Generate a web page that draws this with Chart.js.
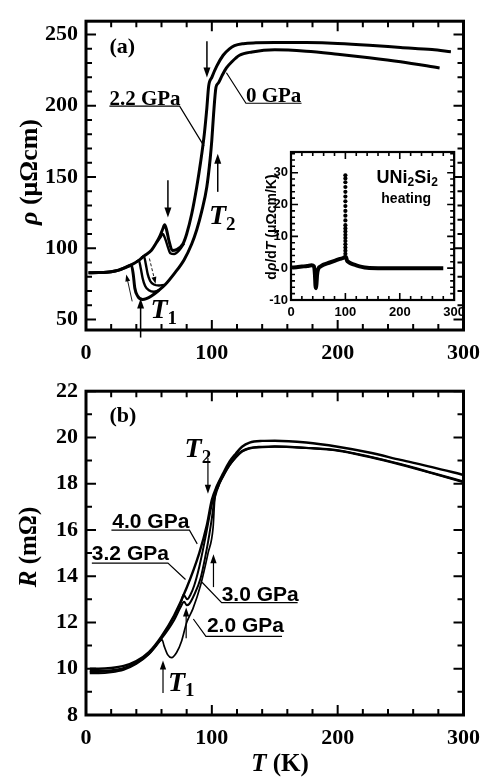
<!DOCTYPE html>
<html>
<head>
<meta charset="utf-8">
<script src="https://cdn.jsdelivr.net/npm/chart.js@4.4.1/dist/chart.umd.min.js"></script>
<style>
  body { margin: 0; background: #fff; }
  canvas { position: absolute; }
</style>
</head>
<body>
<canvas id="pa" width="490" height="370" style="left:0;top:0;width:490px;height:370px"></canvas>
<canvas id="pb" width="490" height="409" style="left:0;top:370px;width:490px;height:409px"></canvas>
<canvas id="pin" width="240" height="190" style="left:230px;top:140px;width:240px;height:190px"></canvas>
<script>
// ---- panel (a): rho(T), 0 and 2.2 GPa ----
const xTicksA = [0, 100, 200, 300];
const yTicksA = [50, 100, 150, 200, 250];

const tA22 = [2, 10, 20, 26, 30, 36, 42, 46, 52, 56, 59, 61, 62.5, 64, 66, 68.5, 72, 77, 80, 84, 88, 91, 94, 96, 97.5, 100, 104, 109, 114, 118, 125, 135, 150, 175, 200, 225, 250, 275, 290];
const rA22 = [82.8, 82.9, 83.5, 84.6, 86, 88.3, 91.5, 94.5, 98.6, 104, 109, 113.5, 116.5, 113, 105, 98.5, 99, 103, 110, 124, 143, 160, 180, 198, 214, 220, 228, 235.5, 240, 242.2, 243.6, 244.2, 244.5, 244.4, 243.8, 242.6, 241, 239.5, 238];

// second (cooling) branch of 2.2 GPa around its T1 bump
const tA22b = [56, 59, 61, 63, 65, 67, 70, 74, 78];
const rA22b = [104, 107.5, 110, 106.5, 101, 96.5, 96, 98.5, 103.5];

const tA0 = [2, 10, 20, 26, 30, 34, 36, 37.5, 38.8, 41, 45, 48, 52, 58, 63, 70, 78, 84, 88, 92, 96, 98.7, 100, 101.3, 103.3, 105.2, 108, 111.6, 116, 122, 132, 150, 175, 200, 225, 250, 281];
const rA0 = [82.8, 82.9, 83.5, 84.6, 86, 87.6, 88.3, 82, 72, 66.5, 64, 64.6, 66.5, 70.5, 74.5, 82, 92, 103, 113, 126, 143, 163, 176, 193, 213, 216, 221, 226.6, 231, 235.5, 237.8, 239.3, 238.3, 236.2, 233.8, 231, 226.6];

// hysteresis branches near T1 (0 GPa)
const tA0h1 = [40, 42, 43.5, 45, 47, 50, 54, 58];
const rA0h1 = [90.5, 91.5, 86, 79, 73.5, 70.5, 69.5, 70.5];
const tA0h2 = [44, 46, 47.5, 49, 51, 54, 58, 62];
const rA0h2 = [93.2, 94.5, 89, 82, 77, 74.5, 73.8, 74.3];

// ---- inset: d rho / dT, heating ----
const xTicksIn = [0, 100, 200, 300];
const yTicksIn = [-10, 0, 10, 20, 30];
const tIn = [2, 10, 20, 30, 38, 42, 44, 45, 46, 47, 48, 50, 55, 60, 70, 80, 90, 96, 99, 101, 103, 106, 110, 120, 130, 140, 160, 200, 240, 280];
const vIn = [0.2, 0.3, 0.5, 0.7, 0.9, 0.6, -2, -5.5, -6.3, -4.5, -2, -0.3, 0.6, 1.1, 1.7, 2.3, 2.9, 3.2, 3.5, 3.5, 2.4, 1.9, 1.5, 0.9, 0.4, 0.1, 0, 0, 0, 0];
const tSpike = [100, 100, 100, 100, 100, 100, 100, 100, 100, 100, 100, 100, 100, 100, 100, 100, 100, 100, 100, 100, 100];
const vSpike = [4.5, 5.5, 6.5, 7.5, 8.5, 9.5, 10.5, 11.5, 12.5, 13.5, 15, 16.5, 18, 19.5, 21, 22.5, 24, 25.5, 27, 28.2, 29.2];

// ---- panel (b): R(T), 2.0 / 3.0 / 3.2 / 4.0 GPa ----
const xTicksB = [0, 100, 200, 300];
const yTicksB = [8, 10, 12, 14, 16, 18, 20, 22];

const tB40 = [3, 10, 20, 30, 40, 50, 60, 70, 80, 90, 96, 100, 104, 109, 114, 119, 124, 130, 140, 150, 175, 200, 225, 250, 275, 300];
const rB40 = [10.0, 10.0, 10.03, 10.12, 10.33, 10.72, 11.4, 12.3, 13.5, 15.0, 16.2, 17.3, 17.9, 18.45, 18.95, 19.3, 19.6, 19.78, 19.85, 19.86, 19.78, 19.6, 19.35, 19.03, 18.72, 18.38];

const tB32 = [3, 10, 20, 30, 40, 50, 60, 70, 76, 77.5, 79, 80.5, 83, 86, 90, 95, 100, 104, 109, 114, 119, 124, 130, 140, 150, 175, 200, 225, 250, 275, 300];
const rB32 = [9.86, 9.86, 9.9, 10.0, 10.24, 10.65, 11.35, 12.25, 12.95, 13.2, 13.1, 13.0, 13.2, 13.6, 14.4, 15.7, 17.1, 17.85, 18.4, 18.85, 19.2, 19.42, 19.55, 19.6, 19.62, 19.56, 19.45, 19.18, 18.85, 18.48, 18.1];

const tB30 = [3, 10, 20, 30, 40, 50, 60, 70, 75, 78, 80, 82, 86, 91, 95, 98, 100, 102, 104, 109, 114, 119, 124, 130, 140, 150, 175, 200, 225, 250, 275, 300];
const rB30 = [9.9, 9.9, 9.93, 10.03, 10.26, 10.66, 11.3, 12.1, 12.65, 12.9, 12.75, 12.8, 13.2, 13.9, 14.9, 15.8, 16.5, 17.3, 17.7, 18.35, 18.8, 19.15, 19.4, 19.53, 19.58, 19.6, 19.54, 19.43, 19.15, 18.82, 18.45, 18.06];

const tB20 = [3, 10, 20, 30, 40, 50, 56, 59, 60.5, 62, 65, 68, 72, 76, 80, 85, 91, 97, 101, 102.3, 105, 109, 114, 119, 124, 130, 140, 150, 175, 200, 225, 250, 275, 300];
const rB20 = [9.8, 9.8, 9.84, 9.95, 10.2, 10.62, 11.0, 11.2, 11.25, 11.0, 10.6, 10.48, 10.7, 11.2, 12.0, 12.6, 13.6, 15.0, 16.1, 17.3, 17.85, 18.3, 18.78, 19.12, 19.38, 19.52, 19.58, 19.6, 19.55, 19.44, 19.17, 18.84, 18.46, 18.08];

const serif = '"Liberation Serif", "Times New Roman", serif';
const sans = '"Liberation Sans", Arial, sans-serif';

const pts = (xs, ys) => xs.map((x, i) => ({ x: x, y: ys[i] }));

function curve(xs, ys, w) {
  return {
    data: pts(xs, ys),
    borderColor: '#000',
    borderWidth: w,
    pointRadius: 0,
    fill: false,
    cubicInterpolationMode: 'monotone'
  };
}

// inward ticks on all four sides + heavy frame
const axesStyle = {
  pa: { xStep: 20, xMajor: 100, yStep: 10, yMajor: 50, major: 10, minor: 6, tickW: 2, frameW: 3 },
  pb: { xStep: 20, xMajor: 100, yStep: 1, yMajor: 2, major: 10, minor: 6, tickW: 2, frameW: 3 },
  pin: { xStep: 20, xMajor: 100, yStep: 2, yMajor: 10, major: 7, minor: 4, tickW: 1.6, frameW: 2.2 }
};

const frame = {
  id: 'frame',
  afterDraw(chart) {
    const s = axesStyle[chart.canvas.id];
    const { ctx, chartArea: a } = chart;
    const xs = chart.scales.x, ys = chart.scales.y;
    const isMajor = (v, m) => Math.abs(v / m - Math.round(v / m)) < 1e-6;
    ctx.save();
    ctx.strokeStyle = '#000';
    ctx.lineWidth = s.tickW;
    ctx.beginPath();
    for (let v = Math.ceil(xs.min / s.xStep) * s.xStep; v <= xs.max + 1e-9; v += s.xStep) {
      const p = xs.getPixelForValue(v);
      const len = isMajor(v, s.xMajor) ? s.major : s.minor;
      ctx.moveTo(p, a.bottom); ctx.lineTo(p, a.bottom - len);
      ctx.moveTo(p, a.top); ctx.lineTo(p, a.top + len);
    }
    for (let v = Math.ceil(ys.min / s.yStep) * s.yStep; v <= ys.max + 1e-9; v += s.yStep) {
      const p = ys.getPixelForValue(v);
      const len = isMajor(v, s.yMajor) ? s.major : s.minor;
      ctx.moveTo(a.left, p); ctx.lineTo(a.left + len, p);
      ctx.moveTo(a.right, p); ctx.lineTo(a.right - len, p);
    }
    ctx.stroke();
    ctx.lineWidth = s.frameW;
    ctx.strokeRect(a.left, a.top, a.width, a.height);
    ctx.restore();
  }
};

// text pieces: [string, font, baseline shift]
function drawRich(ctx, parts, x, y, align, rot) {
  ctx.save();
  ctx.translate(x, y);
  if (rot) ctx.rotate(rot);
  ctx.textBaseline = 'middle';
  ctx.textAlign = 'left';
  let total = 0;
  parts.forEach(p => { ctx.font = p[1]; total += ctx.measureText(p[0]).width; });
  let cx = align === 'center' ? -total / 2 : 0;
  parts.forEach(p => {
    ctx.font = p[1];
    ctx.fillText(p[0], cx, p[2] || 0);
    cx += ctx.measureText(p[0]).width;
  });
  ctx.restore();
}

function arrow(ctx, x1, y1, x2, y2, w, head) {
  const ang = Math.atan2(y2 - y1, x2 - x1);
  ctx.lineWidth = w;
  ctx.beginPath();
  ctx.moveTo(x1, y1);
  ctx.lineTo(x2 - Math.cos(ang) * head * 0.8, y2 - Math.sin(ang) * head * 0.8);
  ctx.stroke();
  ctx.beginPath();
  ctx.moveTo(x2, y2);
  ctx.lineTo(x2 - head * Math.cos(ang) + head * 0.35 * Math.sin(ang), y2 - head * Math.sin(ang) - head * 0.35 * Math.cos(ang));
  ctx.lineTo(x2 - head * Math.cos(ang) - head * 0.35 * Math.sin(ang), y2 - head * Math.sin(ang) + head * 0.35 * Math.cos(ang));
  ctx.closePath();
  ctx.fill();
}

// annotations, positions in data units unless px:true
const notes = {};

const noter = {
  id: 'noter',
  afterDraw(chart) {
    const list = notes[chart.canvas.id] || [];
    const { ctx } = chart;
    const xs = chart.scales.x, ys = chart.scales.y;
    const P = (n, x, y) => n.px ? [x, y] : [xs.getPixelForValue(x), ys.getPixelForValue(y)];
    ctx.save();
    ctx.strokeStyle = '#000';
    ctx.fillStyle = '#000';
    list.forEach(n => {
      if (n.kind === 'text') {
        const [x, y] = P(n, n.x, n.y);
        drawRich(ctx, n.parts, x, y, n.align, n.rot);
      } else if (n.kind === 'arrow') {
        const [x1, y1] = P(n, n.from[0], n.from[1]);
        const [x2, y2] = P(n, n.to[0], n.to[1]);
        ctx.setLineDash(n.dash || []);
        arrow(ctx, x1, y1, x2, y2, n.w || 1.5, n.head || 10);
        ctx.setLineDash([]);
      } else if (n.kind === 'line') {
        ctx.lineWidth = n.w || 1.2;
        ctx.beginPath();
        n.pts.forEach((q, i) => {
          const [x, y] = P(n, q[0], q[1]);
          if (i) ctx.lineTo(x, y); else ctx.moveTo(x, y);
        });
        ctx.stroke();
      }
    });
    ctx.restore();
  }
};

function axisOpts(min, max, tickVals, font, pad, size, horiz) {
  return {
    type: 'linear',
    min: min,
    max: max,
    grid: { display: false, drawTicks: false },
    border: { display: false },
    afterBuildTicks: s => { s.ticks = tickVals.map(v => ({ value: v })); },
    afterFit: s => { if (horiz) s.height = size; else s.width = size; },
    ticks: {
      autoSkip: false,
      maxRotation: 0,
      padding: pad,
      color: '#000',
      font: font
    }
  };
}

function makeChart(id, datasets, xAx, yAx, padding) {
  return new Chart(document.getElementById(id), {
    type: 'line',
    data: { datasets: datasets },
    options: {
      responsive: false,
      animation: false,
      devicePixelRatio: 1,
      parsing: false,
      layout: { padding: padding },
      scales: { x: xAx, y: yAx },
      plugins: { legend: { display: false }, tooltip: { enabled: false } }
    },
    plugins: [frame, noter]
  });
}

const tickSerif = { family: serif, size: 22, weight: 'bold' };
const tickSans = { family: sans, size: 13, weight: 'bold' };

const B = 'bold 21px ' + serif;
const BI = 'italic bold 28px ' + serif;
const SUB = 'bold 19px ' + serif;
const S21 = 'bold 21px ' + sans;

notes.pa = [
  { kind: 'text', px: true, x: 30, y: 172, align: 'center', rot: -Math.PI / 2,
    parts: [['ρ', 'italic bold 26px ' + serif], [' (μΩcm)', 'bold 26px ' + serif]] },
  { kind: 'text', x: 18.6, y: 241.3, parts: [['(a)', 'bold 22px ' + serif]] },
  { kind: 'text', x: 18.6, y: 204.5, parts: [['2.2 GPa', B]] },
  { kind: 'line', pts: [[18.6, 199.8], [74.4, 199.8], [93.8, 171.7]] },
  { kind: 'text', x: 127.1, y: 206.5, parts: [['0 GPa', B]] },
  { kind: 'line', pts: [[171.3, 201.8], [127.1, 201.8], [111.6, 223.2]] },
  { kind: 'arrow', from: [96.1, 245.3], to: [96.1, 219.9] },
  { kind: 'arrow', from: [104.7, 139.6], to: [104.7, 166.4] },
  { kind: 'text', x: 97.7, y: 122, parts: [['T', BI], ['2', SUB, 8]] },
  { kind: 'arrow', from: [65.1, 147.7], to: [65.1, 121.6] },
  { kind: 'arrow', from: [43.4, 37.3], to: [43.4, 64.7] },
  { kind: 'text', x: 51.2, y: 56, parts: [['T', BI], ['1', SUB, 8]] },
  { kind: 'arrow', from: [36.7, 62.7], to: [32.0, 81.6], w: 0.9, head: 7 },
  { kind: 'arrow', from: [50.4, 92.8], to: [55.3, 75.0], w: 0.9, head: 7, dash: [3, 2] }
];

notes.pb = [
  { kind: 'text', px: true, x: 30, y: 177, align: 'center', rot: -Math.PI / 2,
    parts: [['R', 'italic bold 25px ' + serif], [' (mΩ)', 'bold 25px ' + serif]] },
  { kind: 'text', px: true, x: 280, y: 395, align: 'center',
    parts: [['T', 'italic bold 25px ' + serif], [' (K)', 'bold 25px ' + serif]] },
  { kind: 'text', x: 18.6, y: 20.9, parts: [['(b)', 'bold 22px ' + serif]] },
  { kind: 'text', x: 78.3, y: 19.45, parts: [['T', BI], ['2', SUB, 8]] },
  { kind: 'arrow', from: [96.9, 19.11], to: [96.9, 17.57], w: 1.2, head: 9 },
  { kind: 'arrow', from: [101.3, 13.53], to: [101.3, 14.95], w: 1.2, head: 9 },
  { kind: 'arrow', from: [79.6, 11.32], to: [79.6, 12.65], w: 1.2, head: 9 },
  { kind: 'arrow', from: [61.2, 8.95], to: [61.2, 10.36], w: 1.2, head: 9 },
  { kind: 'text', x: 65.1, y: 9.36, parts: [['T', BI], ['1', SUB, 8]] },
  { kind: 'text', x: 20.9, y: 16.32, parts: [['4.0 GPa', S21]] },
  { kind: 'line', pts: [[20.2, 15.99], [82.2, 15.99], [88.4, 15.4]] },
  { kind: 'text', x: 4.65, y: 14.95, parts: [['3.2 GPa', S21]] },
  { kind: 'line', pts: [[4.65, 14.57], [65.1, 14.57], [79.1, 13.86]] },
  { kind: 'text', x: 107.8, y: 13.2, parts: [['3.0 GPa', S21]] },
  { kind: 'line', pts: [[168.2, 12.86], [107.8, 12.86], [92.2, 13.74]] },
  { kind: 'text', x: 96.1, y: 11.82, parts: [['2.0 GPa', S21]] },
  { kind: 'line', pts: [[155.8, 11.4], [95.3, 11.4], [85.3, 12.15]] }
];

notes.pin = [
  { kind: 'text', px: true, x: 42, y: 87, align: 'center', rot: -Math.PI / 2,
    parts: [['d', 'bold 14px ' + sans], ['ρ', 'italic bold 14px ' + sans], ['/d', 'bold 14px ' + sans],
            ['T', 'italic bold 14px ' + sans], [' (μΩcm/K)', 'bold 14px ' + sans]] },
  { kind: 'text', x: 213.6, y: 28.3, align: 'center',
    parts: [['UNi', 'bold 18px ' + sans], ['2', 'bold 12px ' + sans, 5], ['Si', 'bold 18px ' + sans], ['2', 'bold 12px ' + sans, 5]] },
  { kind: 'text', x: 211.8, y: 21.7, align: 'center', parts: [['heating', 'bold 14px ' + sans]] }
];

// panel (a)
makeChart('pa', [
  curve(tA22, rA22, 3),
  curve(tA22b, rA22b, 2.4),
  curve(tA0, rA0, 3),
  curve(tA0h1, rA0h1, 2.4),
  curve(tA0h2, rA0h2, 2.4)
],
  axisOpts(0, 300, xTicksA, tickSerif, 10, 40, true),
  axisOpts(42.6, 259.4, yTicksA, tickSerif, 8, 86, false),
  { top: 6, right: 17, left: 0, bottom: 0 });

// panel (b)
makeChart('pb', [
  curve(tB20, rB20, 1.7),
  curve(tB30, rB30, 2),
  curve(tB32, rB32, 2),
  curve(tB40, rB40, 2.4)
],
  axisOpts(0, 300, xTicksB, tickSerif, 10, 64, true),
  axisOpts(8, 22, yTicksB, tickSerif, 8, 86, false),
  { top: 8.7, right: 17, left: 0, bottom: 0 });

// inset
makeChart('pin', [
  curve(tIn, vIn, 4),
  {
    data: pts(tSpike, vSpike),
    showLine: false,
    pointRadius: 2.1,
    pointBackgroundColor: '#000',
    pointBorderWidth: 0
  }
],
  axisOpts(0, 300, xTicksIn, tickSans, 5, 30, true),
  axisOpts(-10, 36.5, yTicksIn, tickSans, 3, 61, false),
  { top: 12, right: 15, left: 0, bottom: 0 });
</script>
</body>
</html>
